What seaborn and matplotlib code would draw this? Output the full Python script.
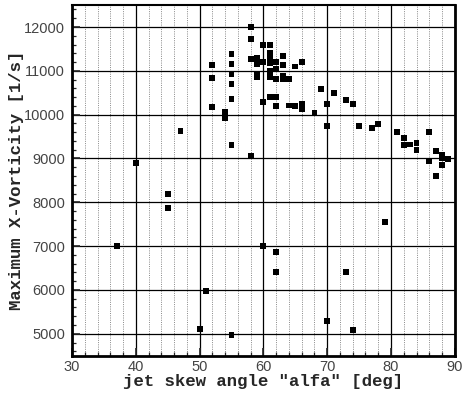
import numpy as np
import pandas as pd
import matplotlib
matplotlib.use('Agg')
import matplotlib.pyplot as plt
import seaborn as sns
from matplotlib.ticker import MultipleLocator

# dados: ângulo alfa [deg] e vorticidade máxima [1/s]
alfa = [37, 40, 45, 45, 47, 50, 51, 52, 52, 52,
        54, 54, 55, 55, 55, 55, 55, 55, 55,
        58, 58, 58, 58, 59, 59, 59, 59, 60, 60,
        60, 60, 60, 61, 61, 61, 61, 61, 61, 61,
        62, 62, 62, 62, 62, 62, 62, 63, 63, 63,
        63, 64, 64, 65, 65, 66, 66, 66, 68, 69,
        70, 70, 70, 71, 73, 73, 74, 74, 75, 77,
        78, 79, 81, 82, 82, 83, 84, 84, 86, 86,
        87, 87, 88, 88, 88, 89]
vorticidade = [7000, 8890, 8180, 7880, 9620, 5100, 5980, 11140, 10830, 10180,
               10070, 9920, 11380, 11160, 10920, 10690, 10360, 9300, 4970,
               12000, 11730, 11260, 9050, 11300, 11150, 10930, 10850, 11590, 11200,
               10280, 7000, 11200, 11590, 11400, 11280, 11170, 11000, 10850, 10400,
               11200, 11040, 10810, 10400, 10200, 6860, 6410, 11340, 11140, 10880,
               10820, 10810, 10210, 11100, 10195, 11200, 10240, 10120, 10050, 10590,
               10240, 9750, 5300, 10500, 10340, 6410, 10240, 5080, 9750, 9690,
               9790, 7550, 9600, 9470, 9300, 9320, 9360, 9190, 9600, 8950,
               9170, 8600, 9080, 9000, 8850, 8990]

df = pd.DataFrame({'alfa': alfa, 'vort': vorticidade})

sns.set_style('white')
plt.rcParams['font.family'] = ['Liberation Sans', 'DejaVu Sans']

fig = plt.figure(figsize=(4.65, 3.93), dpi=100)
ax = fig.add_axes([0.155, 0.095, 0.823, 0.892])

sns.scatterplot(data=df, x='alfa', y='vort', marker='s', s=18,
                color='black', edgecolor='none', ax=ax, zorder=3)

ax.set_xlim(30, 90)
ax.set_ylim(4500, 12500)
ax.xaxis.set_major_locator(MultipleLocator(10))
ax.xaxis.set_minor_locator(MultipleLocator(2))
ax.yaxis.set_major_locator(MultipleLocator(1000))
ax.yaxis.set_minor_locator(MultipleLocator(200))

# grade: principal sólida, secundária pontilhada só no eixo x
ax.grid(which='major', axis='both', color='black', linewidth=0.9)
ax.grid(which='minor', axis='x', color='#888888', linewidth=0.7, linestyle=(0, (1, 1.3)))
ax.set_axisbelow(True)

ax.tick_params(which='major', direction='in', length=6, width=1.2,
               labelsize=10.5, labelcolor='#444444', left=True, bottom=True)
ax.tick_params(axis='y', which='major', pad=5)
ax.tick_params(axis='x', which='major', pad=3)
ax.tick_params(which='minor', direction='in', length=3, width=0.9,
               left=True, bottom=True)

for lado in ['left', 'bottom', 'right', 'top']:
    ax.spines[lado].set_color('black')
ax.spines['left'].set_linewidth(2)
ax.spines['bottom'].set_linewidth(2)
ax.spines['right'].set_linewidth(2)
ax.spines['top'].set_linewidth(1.5)

ax.set_xlabel('jet skew angle "alfa" [deg]', family='Liberation Mono',
              fontweight='bold', fontsize=12.5, labelpad=0)
ax.set_ylabel('Maximum X-Vorticity [1/s]', family='Liberation Mono',
              fontweight='bold', fontsize=12.5, labelpad=0)

fig.savefig('out.png', dpi=100)
